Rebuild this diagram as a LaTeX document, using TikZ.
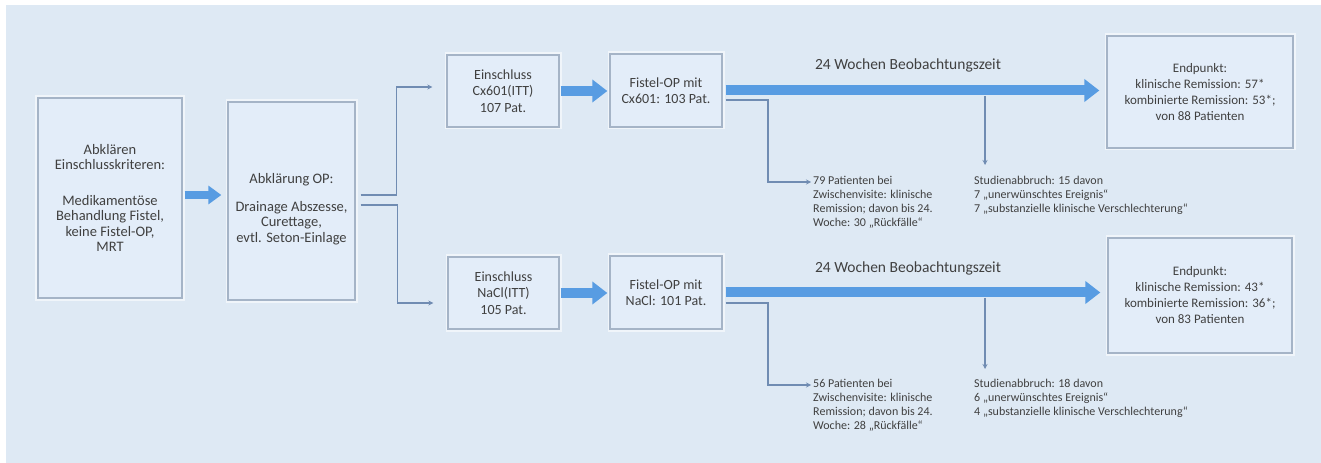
\documentclass[tikz,border=0pt]{standalone}
\usepackage{fontspec}
\setmainfont{Carlito}
\usetikzlibrary{arrows.meta,calc}
\definecolor{bg}{RGB}{222,233,244}
\definecolor{boxfill}{RGB}{227,237,249}
\definecolor{boxline}{RGB}{165,180,199}
\definecolor{fatblue}{RGB}{88,156,226}
\definecolor{connc}{RGB}{112,140,178}
\definecolor{txt}{RGB}{64,64,64}
\begin{document}
\begin{tikzpicture}[x=1bp,y=-1bp,
  box/.style={draw=boxline, line width=1.3bp, fill=boxfill, inner sep=0pt,
    align=center, text=txt, font=\fontsize{13bp}{16bp}\selectfont,
    preaction={draw=white, draw opacity=0.55, line width=5bp}},
  bigtext/.style={font=\fontsize{14.5bp}{15.5bp}\selectfont},
  midtext/.style={font=\fontsize{14bp}{16.5bp}\selectfont},
  boxtext/.style={inner sep=0pt, align=center, text=txt},
  fat/.style={draw=fatblue, line width=10bp, -{Triangle[length=15bp,width=22bp]}},
  fatsmall/.style={draw=fatblue, line width=8bp, -{Triangle[length=13bp,width=18bp]}},
  conn/.style={draw=connc, line width=1.3bp, -{Stealth[length=5bp,width=5bp]}},
  note/.style={inner sep=0pt, anchor=north west, align=left, text=txt, font=\fontsize{12bp}{14bp}\selectfont},
  period/.style={inner sep=0pt, text=txt, font=\fontsize{15.5bp}{18bp}\selectfont}
]
\useasboundingbox (0,0) rectangle (1321,463);
\fill[bg] (6,5) rectangle (1321,463);

% boxes
\node[box, bigtext, minimum width=144bp, minimum height=200bp] (b1) at (110,198)
  {Abklären\\Einschlusskriteren:\\[20bp]Medikamentöse\\Behandlung Fistel,\\keine Fistel-OP,\\MRT};
\node[box, minimum width=127bp, minimum height=198bp] (b2) at (291.5,201) {};
\node[boxtext, bigtext] (b2t) at (291.5,209)
  {Abklärung OP:\\[12bp]Drainage Abszesse,\\Curettage,\\evtl. Seton-Einlage};

\node[box, midtext, minimum width=112bp, minimum height=72bp] (b3) at (503,91)
  {Einschluss\\Cx601(ITT)\\107 Pat.};
\node[box, midtext, minimum width=112bp, minimum height=73bp] (b4) at (666,90.5)
  {Fistel-OP mit\\Cx601: 103 Pat.};
\node[box, minimum width=186bp, minimum height=112bp] (b5) at (1200,92)
  {Endpunkt:\\klinische Remission: 57*\\kombinierte Remission: 53*;\\von 88 Patienten};

\node[box, midtext, minimum width=111bp, minimum height=72bp] (c3) at (503.5,293)
  {Einschluss\\NaCl(ITT)\\105 Pat.};
\node[box, midtext, minimum width=112bp, minimum height=73bp] (c4) at (666,292.5)
  {Fistel-OP mit\\NaCl: 101 Pat.};
\node[box, minimum width=184bp, minimum height=115bp] (c5) at (1200,295.5)
  {Endpunkt:\\klinische Remission: 43*\\kombinierte Remission: 36*;\\von 83 Patienten};

% period labels
\node[period] (p1) at (908,65) {24 Wochen Beobachtungszeit};
\node[period] (p2) at (908,268) {24 Wochen Beobachtungszeit};

% notes
\node[note] (t1) at (813,176)
  {79 Patienten bei\\Zwischenvisite: klinische\\Remission; davon bis 24.\\Woche: 30 „Rückfälle“};
\node[note] (t2) at (974,176)
  {Studienabbruch: 15 davon\\7 „unerwünschtes Ereignis“\\7 „substanzielle klinische Verschlechterung“};
\node[note] (u1) at (813,379)
  {56 Patienten bei\\Zwischenvisite: klinische\\Remission; davon bis 24.\\Woche: 28 „Rückfälle“};
\node[note] (u2) at (974,379)
  {Studienabbruch: 18 davon\\6 „unerwünschtes Ereignis“\\4 „substanzielle klinische Verschlechterung“};

% fat arrows
\coordinate (a1) at (0,195);
\draw[fatsmall, shorten <=2bp, shorten >=6bp] (b1.east |- a1) -- (b2.west |- a1);
\draw[fat, shorten <=1bp, shorten >=2bp] (b3.east) -- (b4.west |- b3.east);
\draw[fat, shorten <=1bp, shorten >=2bp] (c3.east) -- (c4.west |- c3.east);
\draw[fat, shorten <=3bp, shorten >=7bp] (b4.east) -- (b5.west |- b4.east);
\draw[fat, shorten <=3bp, shorten >=7bp] (c4.east) -- (c5.west |- c4.east);

% split connectors
\draw[conn] ($(b2.east)+(5,-6)$) -| ($(b3.west)+(-50,-4)$) -- ($(b3.west)+(-14,-4)$);
\draw[conn] ($(b2.east)+(5,4)$) -| ($(c3.west)+(-50,10)$) -- ($(c3.west)+(-14,10)$);

% branch connectors
\coordinate (k1) at (768,182);
\draw[conn, shorten >=2bp] ($(b4.east)+(3,9.5)$) -| (k1) -- (t1.north west |- k1);
\coordinate (k1b) at (768,385);
\draw[conn, shorten >=2bp] ($(c4.east)+(3,10.5)$) -| (k1b) -- (u1.north west |- k1b);

\coordinate (k2) at (985,96);
\draw[conn, shorten >=11bp] (k2) -- (k2 |- t2.north);
\coordinate (k2b) at (985,298);
\draw[conn, shorten >=10bp] (k2b) -- (k2b |- u2.north);
\end{tikzpicture}
\end{document}
